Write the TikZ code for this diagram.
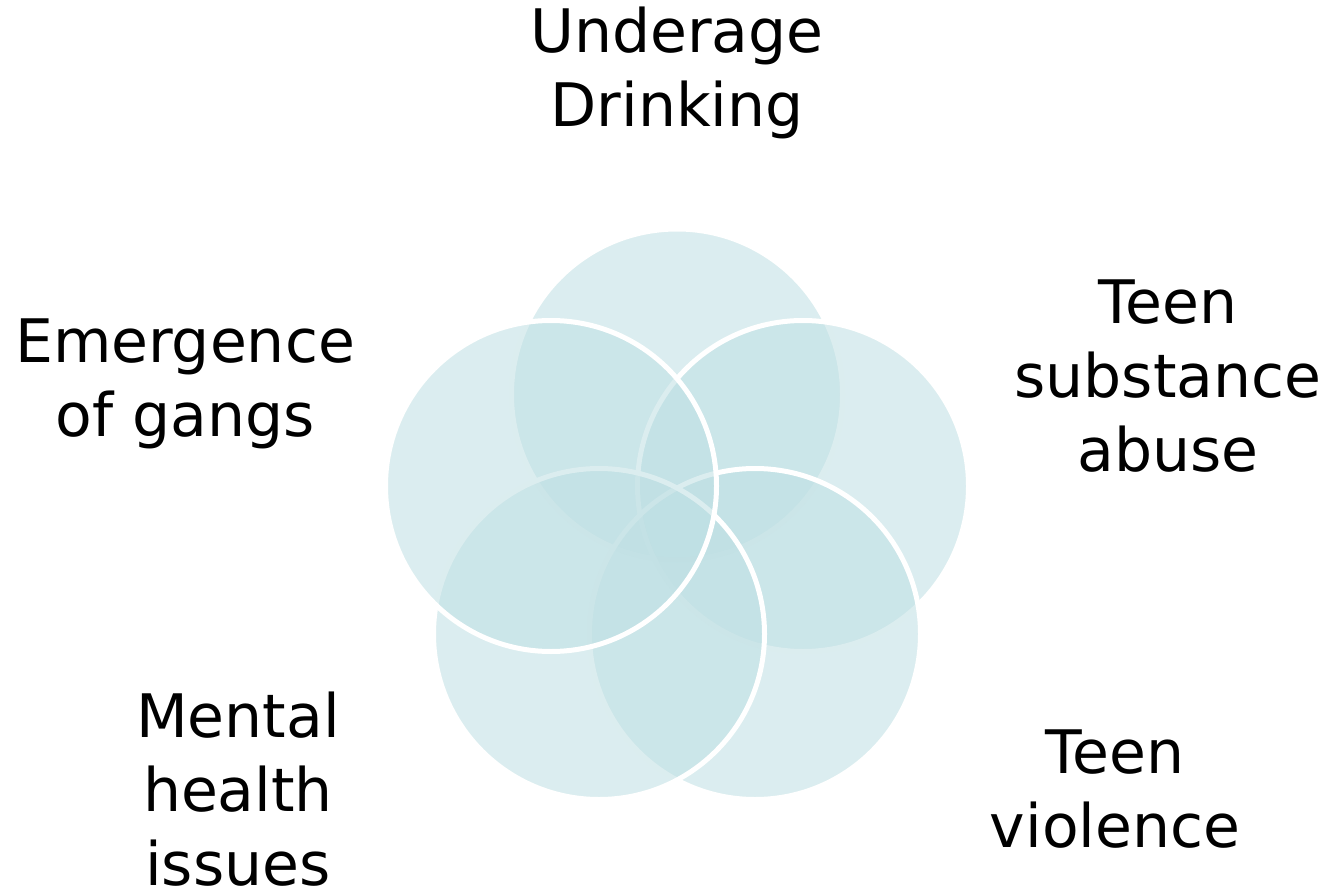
\documentclass[tikz,border=0pt]{standalone}
\usepackage{fontspec}
\setmainfont{DejaVu Sans}
\begin{document}
\begin{tikzpicture}[x=1pt,y=-1pt]
\definecolor{venn}{RGB}{190,223,227}
\tikzset{
  vc/.style={draw=white, line width=5pt, fill=venn, fill opacity=0.55},
  lab/.style={font=\fontsize{60}{74}\selectfont, align=center, inner sep=0pt, anchor=base}
}
\useasboundingbox (0,0) rectangle (1329,890);
% circles in drawing order
\path[vc] (677,394.5) circle[radius=165.5pt];
\path[vc] (803,486) circle[radius=165.5pt];
\path[vc] (755,634) circle[radius=165.5pt];
\path[vc] (599,634) circle[radius=165.5pt];
\path[vc] (551,486) circle[radius=165.5pt];
% labels (anchor = baseline of last line)
\node[lab] (ud) at (677,127) {Underage\\Drinking};
\node[lab] (eg) at (185,436) {Emergence\\of gangs};
\node[lab] (ts) at (1168,471) {Teen\\substance\\abuse};
\node[lab] (mh) at (238,885) {Mental\\health\\issues};
\node[lab] (tv) at (1115,847) {Teen\\violence};
\end{tikzpicture}
\end{document}
